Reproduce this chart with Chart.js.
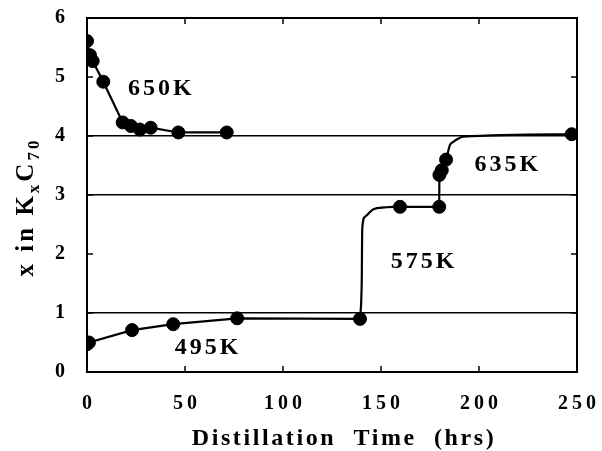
<!DOCTYPE html>
<html>
<head>
<meta charset="utf-8">
<script src="https://cdn.jsdelivr.net/npm/chart.js@4.4.1/dist/chart.umd.min.js"></script>
<style>
  html, body { margin: 0; padding: 0; background: #fff; }
  #wrap { width: 602px; height: 451px; }
</style>
</head>
<body>
<div id="wrap"><canvas id="c" width="602" height="451"></canvas></div>
<script>
// values
const xTicks = [0, 50, 100, 150, 200, 250];
const yTicks = [0, 1, 2, 3, 4, 5, 6];
const refLines = [1, 3, 4];

const t650 = [0, 1.5, 2.9, 8.3, 18.2, 22.4, 27, 32.5, 46.6, 71.3];
const x650 = [5.61, 5.37, 5.27, 4.92, 4.23, 4.17, 4.11, 4.14, 4.06, 4.06];

const t495 = [0, 1, 23, 44, 76.6, 139.3];
const x495 = [0.47, 0.5, 0.71, 0.81, 0.91, 0.9];

// traced path of the 575K and 635K curves (markers kept separately)
const t575path = [139.3, 140.2, 140.4, 141.8, 146.1, 152, 156.3, 159.7, 179.7];
const x575path = [0.9, 1.6, 2.41, 2.63, 2.76, 2.79, 2.8, 2.8, 2.8];
const t575 = [159.7, 179.7];
const x575 = [2.8, 2.8];

const t635path = [179.7, 179.8, 181, 183.2, 185.2, 186.9, 188.6, 192, 247.3];
const x635path = [2.8, 3.34, 3.42, 3.6, 3.85, 3.9, 3.94, 3.99, 4.03];
const t635 = [179.8, 181, 183.2, 247.3];
const x635 = [3.34, 3.42, 3.6, 4.03];

const labels = ['650K', '635K', '575K', '495K'];
const labelAt = [[37.2, 4.8], [214, 3.51], [171.2, 1.87], [61, 0.41]];

const pts = (t, v) => t.map((x, i) => ({ x: x, y: v[i] }));
const SERIF = '"Liberation Serif", "DejaVu Serif", serif';

const lineDs = (data, tension) => ({
  type: 'line', data: data, borderColor: '#000', borderWidth: 2.2,
  pointRadius: 0, tension: tension, cubicInterpolationMode: tension ? 'monotone' : 'default',
  fill: false
});
const dotDs = (data) => ({
  type: 'scatter', data: data, backgroundColor: '#000', borderColor: '#000',
  pointRadius: 6.5, pointHoverRadius: 6.5, showLine: false
});

const decor = {
  id: 'decor',
  afterDraw(chart) {
    const { ctx, chartArea: a, scales: { x, y } } = chart;
    ctx.save();
    ctx.strokeStyle = '#000';
    ctx.lineWidth = 2;
    ctx.strokeRect(a.left, a.top, a.right - a.left, a.bottom - a.top);
    ctx.lineWidth = 1.5;
    ctx.beginPath();
    xTicks.forEach(v => {
      const px = x.getPixelForValue(v);
      ctx.moveTo(px, a.bottom); ctx.lineTo(px, a.bottom - 6);
      ctx.moveTo(px, a.top); ctx.lineTo(px, a.top + 6);
    });
    yTicks.forEach(v => {
      const py = y.getPixelForValue(v);
      ctx.moveTo(a.left, py); ctx.lineTo(a.left + 6, py);
      ctx.moveTo(a.right, py); ctx.lineTo(a.right - 6, py);
    });
    ctx.stroke();

    ctx.fillStyle = '#000';
    ctx.font = 'bold 24px ' + SERIF;
    ctx.textAlign = 'center';
    ctx.textBaseline = 'middle';
    if ('letterSpacing' in ctx) ctx.letterSpacing = '3px';
    labels.forEach((s, i) => {
      ctx.fillText(s, x.getPixelForValue(labelAt[i][0]) + 1.5, y.getPixelForValue(labelAt[i][1]));
    });

    // x axis title
    ctx.font = 'bold 24px ' + SERIF;
    if ('letterSpacing' in ctx) ctx.letterSpacing = '2.6px';
    ctx.fillText('Distillation  Time  (hrs)', 344, 439);

    // y axis title with subscripts
    ctx.translate(25, 207);
    ctx.rotate(-Math.PI / 2);
    if ('letterSpacing' in ctx) ctx.letterSpacing = '3px';
    const parts = [['x in K', 25, 0], ['x', 17, 6], ['C', 25, 0], ['70', 17, 6]];
    let w = 0;
    parts.forEach(p => { ctx.font = 'bold ' + p[1] + 'px ' + SERIF; w += ctx.measureText(p[0]).width; });
    let cx = -w / 2;
    ctx.textAlign = 'left';
    ctx.textBaseline = 'alphabetic';
    parts.forEach(p => {
      ctx.font = 'bold ' + p[1] + 'px ' + SERIF;
      ctx.fillText(p[0], cx, 8 + p[2]);
      cx += ctx.measureText(p[0]).width;
    });
    ctx.restore();
  }
};

new Chart(document.getElementById('c'), {
  data: {
    datasets: [
      lineDs(pts(t650, x650), 0),
      dotDs(pts(t650, x650)),
      lineDs(pts(t495, x495), 0),
      dotDs(pts(t495, x495)),
      lineDs(pts(t575path, x575path), 0.4),
      dotDs(pts(t575, x575)),
      lineDs(pts(t635path, x635path), 0.4),
      dotDs(pts(t635, x635))
    ]
  },
  options: {
    responsive: false,
    animation: false,
    events: [],
    layout: { padding: { left: 0, right: 25, top: 18, bottom: 0 } },
    plugins: { legend: { display: false }, tooltip: { enabled: false } },
    scales: {
      x: {
        type: 'linear', min: 0, max: 250,
        afterBuildTicks: s => { s.ticks = xTicks.map(v => ({ value: v })); },
        afterFit: s => { s.height = 79; s.paddingLeft = 0; s.paddingRight = 0; },
        grid: { display: false },
        border: { display: false },
        ticks: {
          color: '#000', padding: 12,
          font: { family: SERIF, size: 20, weight: 'bold' },
          callback: v => String(v).split('').join('\u2009')
        }
      },
      y: {
        type: 'linear', min: 0, max: 6,
        afterBuildTicks: s => { s.ticks = yTicks.map(v => ({ value: v })); },
        afterFit: s => { s.width = 87; s.paddingTop = 0; s.paddingBottom = 0; },
        grid: {
          drawTicks: false, lineWidth: 1.5,
          color: c => refLines.includes(c.tick.value) ? '#000' : 'rgba(0,0,0,0)'
        },
        border: { display: false },
        ticks: {
          color: '#000', padding: 22,
          font: { family: SERIF, size: 20, weight: 'bold' }
        }
      }
    }
  },
  plugins: [decor]
});
</script>
</body>
</html>
